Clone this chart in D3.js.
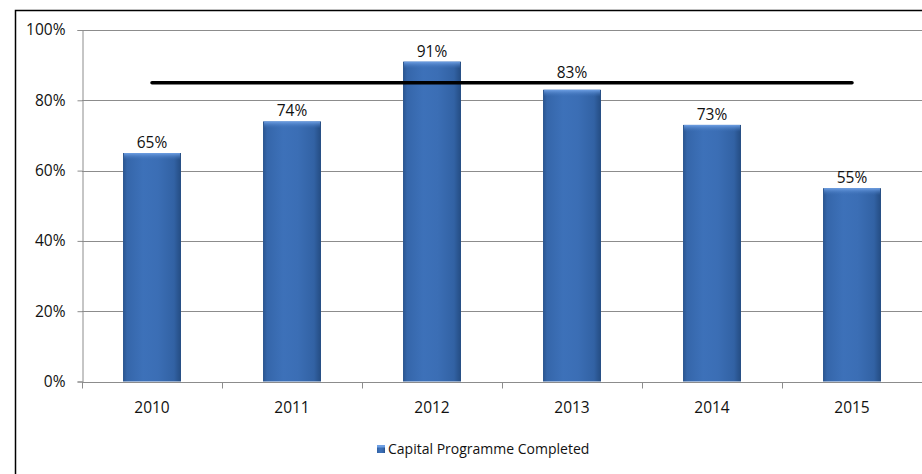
<!DOCTYPE html>
<html>
<head>
<meta charset="utf-8">
<script src="https://cdn.jsdelivr.net/npm/d3@7"></script>
<style>
  html, body { margin: 0; padding: 0; background: #fff; }
  svg { display: block; font-family: "Open Sans", Lato, sans-serif; }
</style>
</head>
<body>
<svg id="chart" width="922" height="474"></svg>
<script>
// Share of the capital programme completed each year, with the 85% target line
const years = ["2010", "2011", "2012", "2013", "2014", "2015"];
const completed = [0.65, 0.74, 0.91, 0.83, 0.73, 0.55];
const target = 0.85;
const yTicks = [0, 0.2, 0.4, 0.6, 0.8, 1.0];
const seriesName = "Capital Programme Completed";

const svg = d3.select("#chart");
const W = 922, H = 474;
const plot = { left: 82, right: 922, top: 30, bottom: 381.5 };
const FONT = 15.5;

// Outer chart frame (runs past the right and bottom edges)
svg.append("rect")
  .attr("x", 15.5).attr("y", 10.5)
  .attr("width", W + 20).attr("height", H + 20)
  .attr("fill", "none").attr("stroke", "#000").attr("stroke-width", 1.5);

const x = d3.scaleBand().domain(years).range([plot.left, plot.right]).padding(0);
const y = d3.scaleLinear().domain([0, 1]).range([plot.bottom, plot.top]);

// Bar shading: darker edges, brighter middle, light bevel on top
const defs = svg.append("defs");
const g1 = defs.append("linearGradient").attr("id", "barFill")
  .attr("x1", "0").attr("x2", "1").attr("y1", "0").attr("y2", "0");
[["0%", "#2a548d"], ["7%", "#3566aa"], ["35%", "#3d71b9"], ["60%", "#3b6eb5"], ["88%", "#3262a4"], ["100%", "#244c82"]]
  .forEach(([o, c]) => g1.append("stop").attr("offset", o).attr("stop-color", c));
const g2 = defs.append("linearGradient").attr("id", "barTop")
  .attr("x1", "0").attr("x2", "0").attr("y1", "0").attr("y2", "1");
[["0%", "#6fa0e4", 1], ["100%", "#3c70b8", 0]]
  .forEach(([o, c, a]) => g2.append("stop").attr("offset", o).attr("stop-color", c).attr("stop-opacity", a));

// Horizontal gridlines
svg.append("g").selectAll("line").data(yTicks).join("line")
  .attr("x1", plot.left).attr("x2", plot.right)
  .attr("y1", d => Math.round(y(d)) + 0.5).attr("y2", d => Math.round(y(d)) + 0.5)
  .attr("stroke", "#8c8c8c").attr("stroke-width", 1);

// Y axis
const yAxis = svg.append("g")
  .attr("transform", `translate(${plot.left + 0.5},0)`)
  .call(d3.axisLeft(y).tickValues(yTicks).tickFormat(d3.format(".0%")).tickSize(5).tickPadding(12));
yAxis.select(".domain").attr("stroke", "#8c8c8c");
yAxis.selectAll(".tick line").attr("stroke", "#8c8c8c");
yAxis.selectAll("text").attr("font-size", FONT).attr("fill", "#111")
  .attr("font-family", "'Open Sans', sans-serif");

// X axis with ticks at category boundaries
const xAxisG = svg.append("g").attr("transform", `translate(0,${Math.round(plot.bottom) + 0.5})`);
xAxisG.append("line").attr("x1", plot.left).attr("x2", plot.right)
  .attr("stroke", "#8c8c8c");
const bounds = years.map(d => x(d)).concat([x(years[years.length - 1]) + x.bandwidth()]);
xAxisG.selectAll("line.tk").data(bounds).join("line").attr("class", "tk")
  .attr("x1", d => Math.round(d) + 0.5).attr("x2", d => Math.round(d) + 0.5)
  .attr("y1", 0).attr("y2", 6).attr("stroke", "#8c8c8c");
xAxisG.selectAll("text").data(years).join("text")
  .attr("x", d => x(d) + x.bandwidth() / 2).attr("y", 30.5)
  .attr("text-anchor", "middle").attr("font-size", FONT).attr("fill", "#111")
  .text(d => d);

// Bars
const barW = x.bandwidth() * 0.414;
const bars = svg.append("g").selectAll("g").data(years).join("g");
bars.append("rect")
  .attr("x", d => x(d) + (x.bandwidth() - barW) / 2)
  .attr("y", (d, i) => y(completed[i]))
  .attr("width", barW)
  .attr("height", (d, i) => y(0) - y(completed[i]))
  .attr("fill", "url(#barFill)");
bars.append("rect")
  .attr("x", d => x(d) + (x.bandwidth() - barW) / 2 + 1)
  .attr("y", (d, i) => y(completed[i]))
  .attr("width", barW - 2)
  .attr("height", 7)
  .attr("fill", "url(#barTop)");

// Value labels; a label that would sit on the target line is lifted above it
const targetY = y(target);
const labelY = v => {
  const base = y(v) - 5;
  const top = base - 12;
  if (base + 2 > targetY - 3 && top < targetY + 3) return targetY - 5;
  return base;
};
svg.append("g").selectAll("text").data(years).join("text")
  .attr("x", d => x(d) + x.bandwidth() / 2)
  .attr("y", (d, i) => labelY(completed[i]))
  .attr("text-anchor", "middle").attr("font-size", FONT).attr("fill", "#111")
  .text((d, i) => d3.format(".0%")(completed[i]));

// Target line from first to last category centre
svg.append("line")
  .attr("x1", x(years[0]) + x.bandwidth() / 2)
  .attr("x2", x(years[years.length - 1]) + x.bandwidth() / 2)
  .attr("y1", targetY).attr("y2", targetY)
  .attr("stroke", "#000").attr("stroke-width", 3.5).attr("stroke-linecap", "round");

// Legend
const lg = svg.append("g").attr("transform", "translate(377,445)");
lg.append("rect").attr("width", 8).attr("height", 8).attr("fill", "url(#barFill)");
lg.append("rect").attr("width", 8).attr("height", 2.5).attr("fill", "#6fa0e4");
lg.append("text").attr("x", 11).attr("y", 8.5).attr("font-size", 14).attr("fill", "#111")
  .text(seriesName);
</script>
</body>
</html>
